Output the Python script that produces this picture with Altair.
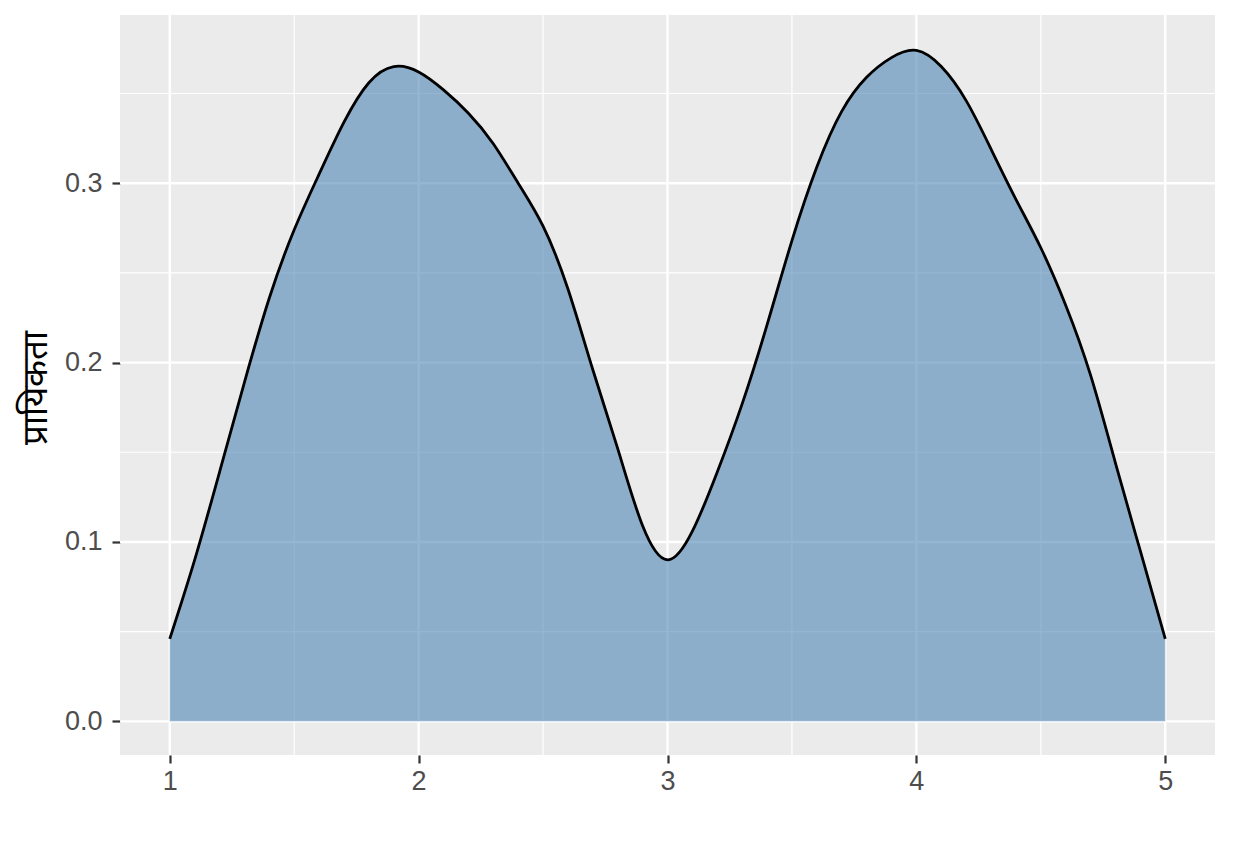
import altair as alt
import pandas as pd

# density curve
xs = [1.0, 1.1, 1.2, 1.3, 1.4, 1.5, 1.6, 1.7, 1.8, 1.9, 2.0, 2.1, 2.2, 2.3, 2.4, 2.5,
      2.6, 2.7, 2.8, 2.9, 3.0, 3.1, 3.2, 3.3, 3.4, 3.5, 3.6, 3.7, 3.8, 3.9,
      4.0, 4.1, 4.2, 4.3, 4.4, 4.5, 4.6, 4.7, 4.8, 4.9, 5.0]
ys = [0.046, 0.090, 0.139, 0.189, 0.236, 0.274, 0.305, 0.334, 0.356, 0.365, 0.362, 0.352,
      0.339, 0.322, 0.300, 0.276, 0.241, 0.196, 0.152, 0.109, 0.090, 0.106,
      0.139, 0.177, 0.221, 0.268, 0.309, 0.340, 0.359, 0.370, 0.374, 0.365, 0.346, 0.319,
      0.291, 0.264, 0.232, 0.193, 0.144, 0.095, 0.046]

x_major = [1, 2, 3, 4, 5]
x_minor = [1.5, 2.5, 3.5, 4.5]
y_major = [0.0, 0.1, 0.2, 0.3]
y_minor = [0.05, 0.15, 0.25, 0.35]
y_title = "प्रायिकता"

df = pd.DataFrame({"x": xs, "y": ys})

xscale = alt.Scale(domain=[0.8, 5.2], nice=False, zero=False)
yscale = alt.Scale(domain=[-0.01875, 0.39375], nice=False, zero=False)

font = "Liberation Sans"

xaxis = alt.Axis(values=x_major, format="d", grid=False, domain=False, title=None,
                 tickColor="#333333", tickSize=8, tickWidth=2.2,
                 labelColor="#4D4D4D", labelFontSize=27, labelFont=font, labelPadding=5)
yaxis = alt.Axis(values=y_major, format=".1f", grid=False, domain=False, title=y_title,
                 tickColor="#333333", tickSize=8, tickWidth=2.2,
                 labelColor="#4D4D4D", labelFontSize=27, labelFont=font, labelPadding=10,
                 titleFontSize=35, titleFontWeight="normal", titleColor="#000000",
                 titleAngle=-90, titleX=-85, titleY=372, titleAlign="center",
                 titleBaseline="middle")

grid_xmaj = alt.Chart(pd.DataFrame({"x": x_major})).mark_rule(color="white", strokeWidth=2.4).encode(
    x=alt.X("x:Q", scale=xscale, axis=xaxis))
grid_xmin = alt.Chart(pd.DataFrame({"x": x_minor})).mark_rule(color="white", strokeWidth=1.2).encode(
    x=alt.X("x:Q", scale=xscale))
grid_ymaj = alt.Chart(pd.DataFrame({"y": y_major})).mark_rule(color="white", strokeWidth=2.4).encode(
    y=alt.Y("y:Q", scale=yscale, axis=yaxis))
grid_ymin = alt.Chart(pd.DataFrame({"y": y_minor})).mark_rule(color="white", strokeWidth=1.2).encode(
    y=alt.Y("y:Q", scale=yscale))

area = alt.Chart(df).mark_area(color="#4682B4", opacity=0.58, interpolate="natural").encode(
    x=alt.X("x:Q", scale=xscale),
    y=alt.Y("y:Q", scale=yscale),
    y2=alt.datum(0))

line = alt.Chart(df).mark_line(color="black", strokeWidth=2.8, interpolate="natural").encode(
    x=alt.X("x:Q", scale=xscale),
    y=alt.Y("y:Q", scale=yscale))

chart = alt.layer(grid_xmin, grid_ymin, grid_xmaj, grid_ymaj, area, line).properties(
    width=1095, height=740,
    autosize=alt.AutoSizeParams(type="none"),
    padding={"left": 112, "top": 7, "right": 11, "bottom": 90},
    background="white",
).configure_view(fill="#EBEBEB", strokeWidth=0)

chart.save("out.html", embed_options={"renderer": "svg", "actions": False})
